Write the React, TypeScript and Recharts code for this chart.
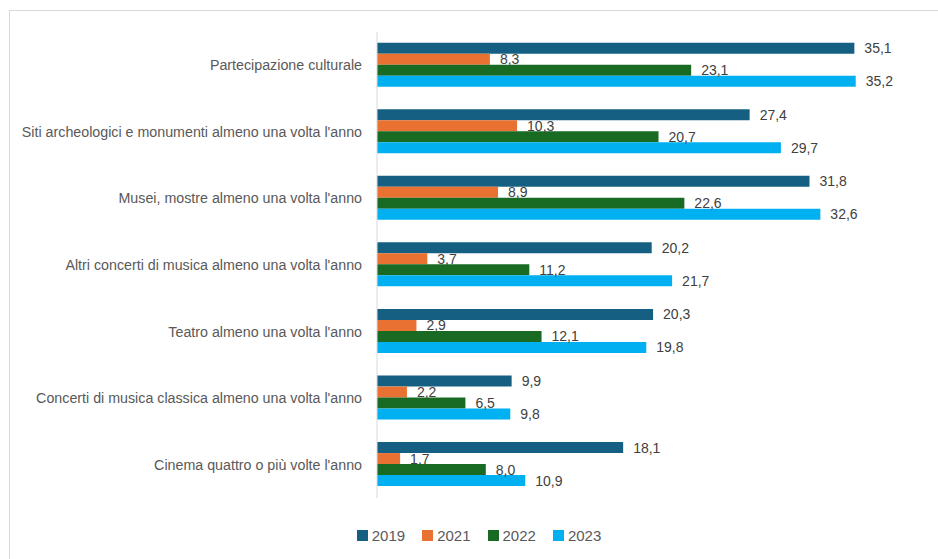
import React from 'react';
import { BarChart, Bar, XAxis, YAxis, LabelList, Legend } from 'recharts';

const categories = [
  'Partecipazione culturale',
  "Siti archeologici e monumenti almeno una volta l'anno",
  "Musei, mostre almeno una volta l'anno",
  "Altri concerti di musica almeno una volta l'anno",
  "Teatro almeno una volta l'anno",
  "Concerti di musica classica almeno una volta l'anno",
  "Cinema quattro o più volte l'anno",
];

const series2019 = [35.1, 27.4, 31.8, 20.2, 20.3, 9.9, 18.1];
const series2021 = [8.3, 10.3, 8.9, 3.7, 2.9, 2.2, 1.7];
const series2022 = [23.1, 20.7, 22.6, 11.2, 12.1, 6.5, 8.0];
const series2023 = [35.2, 29.7, 32.6, 21.7, 19.8, 9.8, 10.9];

const seriesNames = ['2019', '2021', '2022', '2023'];
const seriesColors = ['#156082', '#E97132', '#196B24', '#00B0F0'];

const data = categories.map((name, i) => ({
  name,
  y2019: series2019[i],
  y2021: series2021[i],
  y2022: series2022[i],
  y2023: series2023[i],
}));

const keys = ['y2019', 'y2021', 'y2022', 'y2023'];

const fmt = (v: any) => Number(v).toFixed(1).replace('.', ',');

const FONT = '"Liberation Sans", Arial, sans-serif';

const LegendContent = () => (
  <div
    style={{
      display: 'flex',
      justifyContent: 'center',
      alignItems: 'center',
      height: 24,
      paddingLeft: 20,
      boxSizing: 'border-box',
      fontFamily: FONT,
      fontSize: 15,
      color: '#595959',
    }}
  >
    {seriesNames.map((n, i) => (
      <div key={n} style={{ display: 'flex', alignItems: 'center', marginRight: i < 3 ? 17 : 0 }}>
        <div style={{ width: 11, height: 11, background: seriesColors[i], marginRight: 4 }} />
        <span>{n}</span>
      </div>
    ))}
  </div>
);

export default function App() {
  return (
    <div
      style={{
        position: 'absolute',
        left: 0,
        top: 0,
        width: 938,
        height: 559,
        overflow: 'hidden',
        background: '#ffffff',
      }}
    >
      <div
        style={{
          position: 'absolute',
          left: 9,
          top: 10,
          width: 960,
          height: 580,
          border: '1px solid #d9d9d9',
          boxSizing: 'border-box',
        }}
      />
      <div style={{ position: 'absolute', left: 0, top: 0 }}>
        <BarChart
          width={938}
          height={559}
          data={data}
          layout="vertical"
          margin={{ top: 32, right: 17, bottom: 37, left: 0 }}
          barCategoryGap="16%"
          barGap={0}
        >
          <XAxis type="number" domain={[0, 40]} hide />
          <YAxis
            type="category"
            dataKey="name"
            width={377}
            axisLine={{ stroke: '#d9d9d9' }}
            tickLine={false}
            tickMargin={9}
            interval={0}
            tick={{ fill: '#595959', fontSize: 14.25, fontFamily: FONT }}
          />
          {keys.map((k, i) => (
            <Bar key={k} dataKey={k} name={seriesNames[i]} fill={seriesColors[i]} isAnimationActive={false}>
              <LabelList
                dataKey={k}
                position="right"
                offset={10}
                formatter={fmt}
                style={{ fill: '#404040', fontSize: 14, fontFamily: FONT }}
              />
            </Bar>
          ))}
          <Legend
            verticalAlign="bottom"
            content={<LegendContent />}
            wrapperStyle={{ top: 523, bottom: 'auto', left: 0, width: 938, height: 24 }}
          />
        </BarChart>
      </div>
    </div>
  );
}
